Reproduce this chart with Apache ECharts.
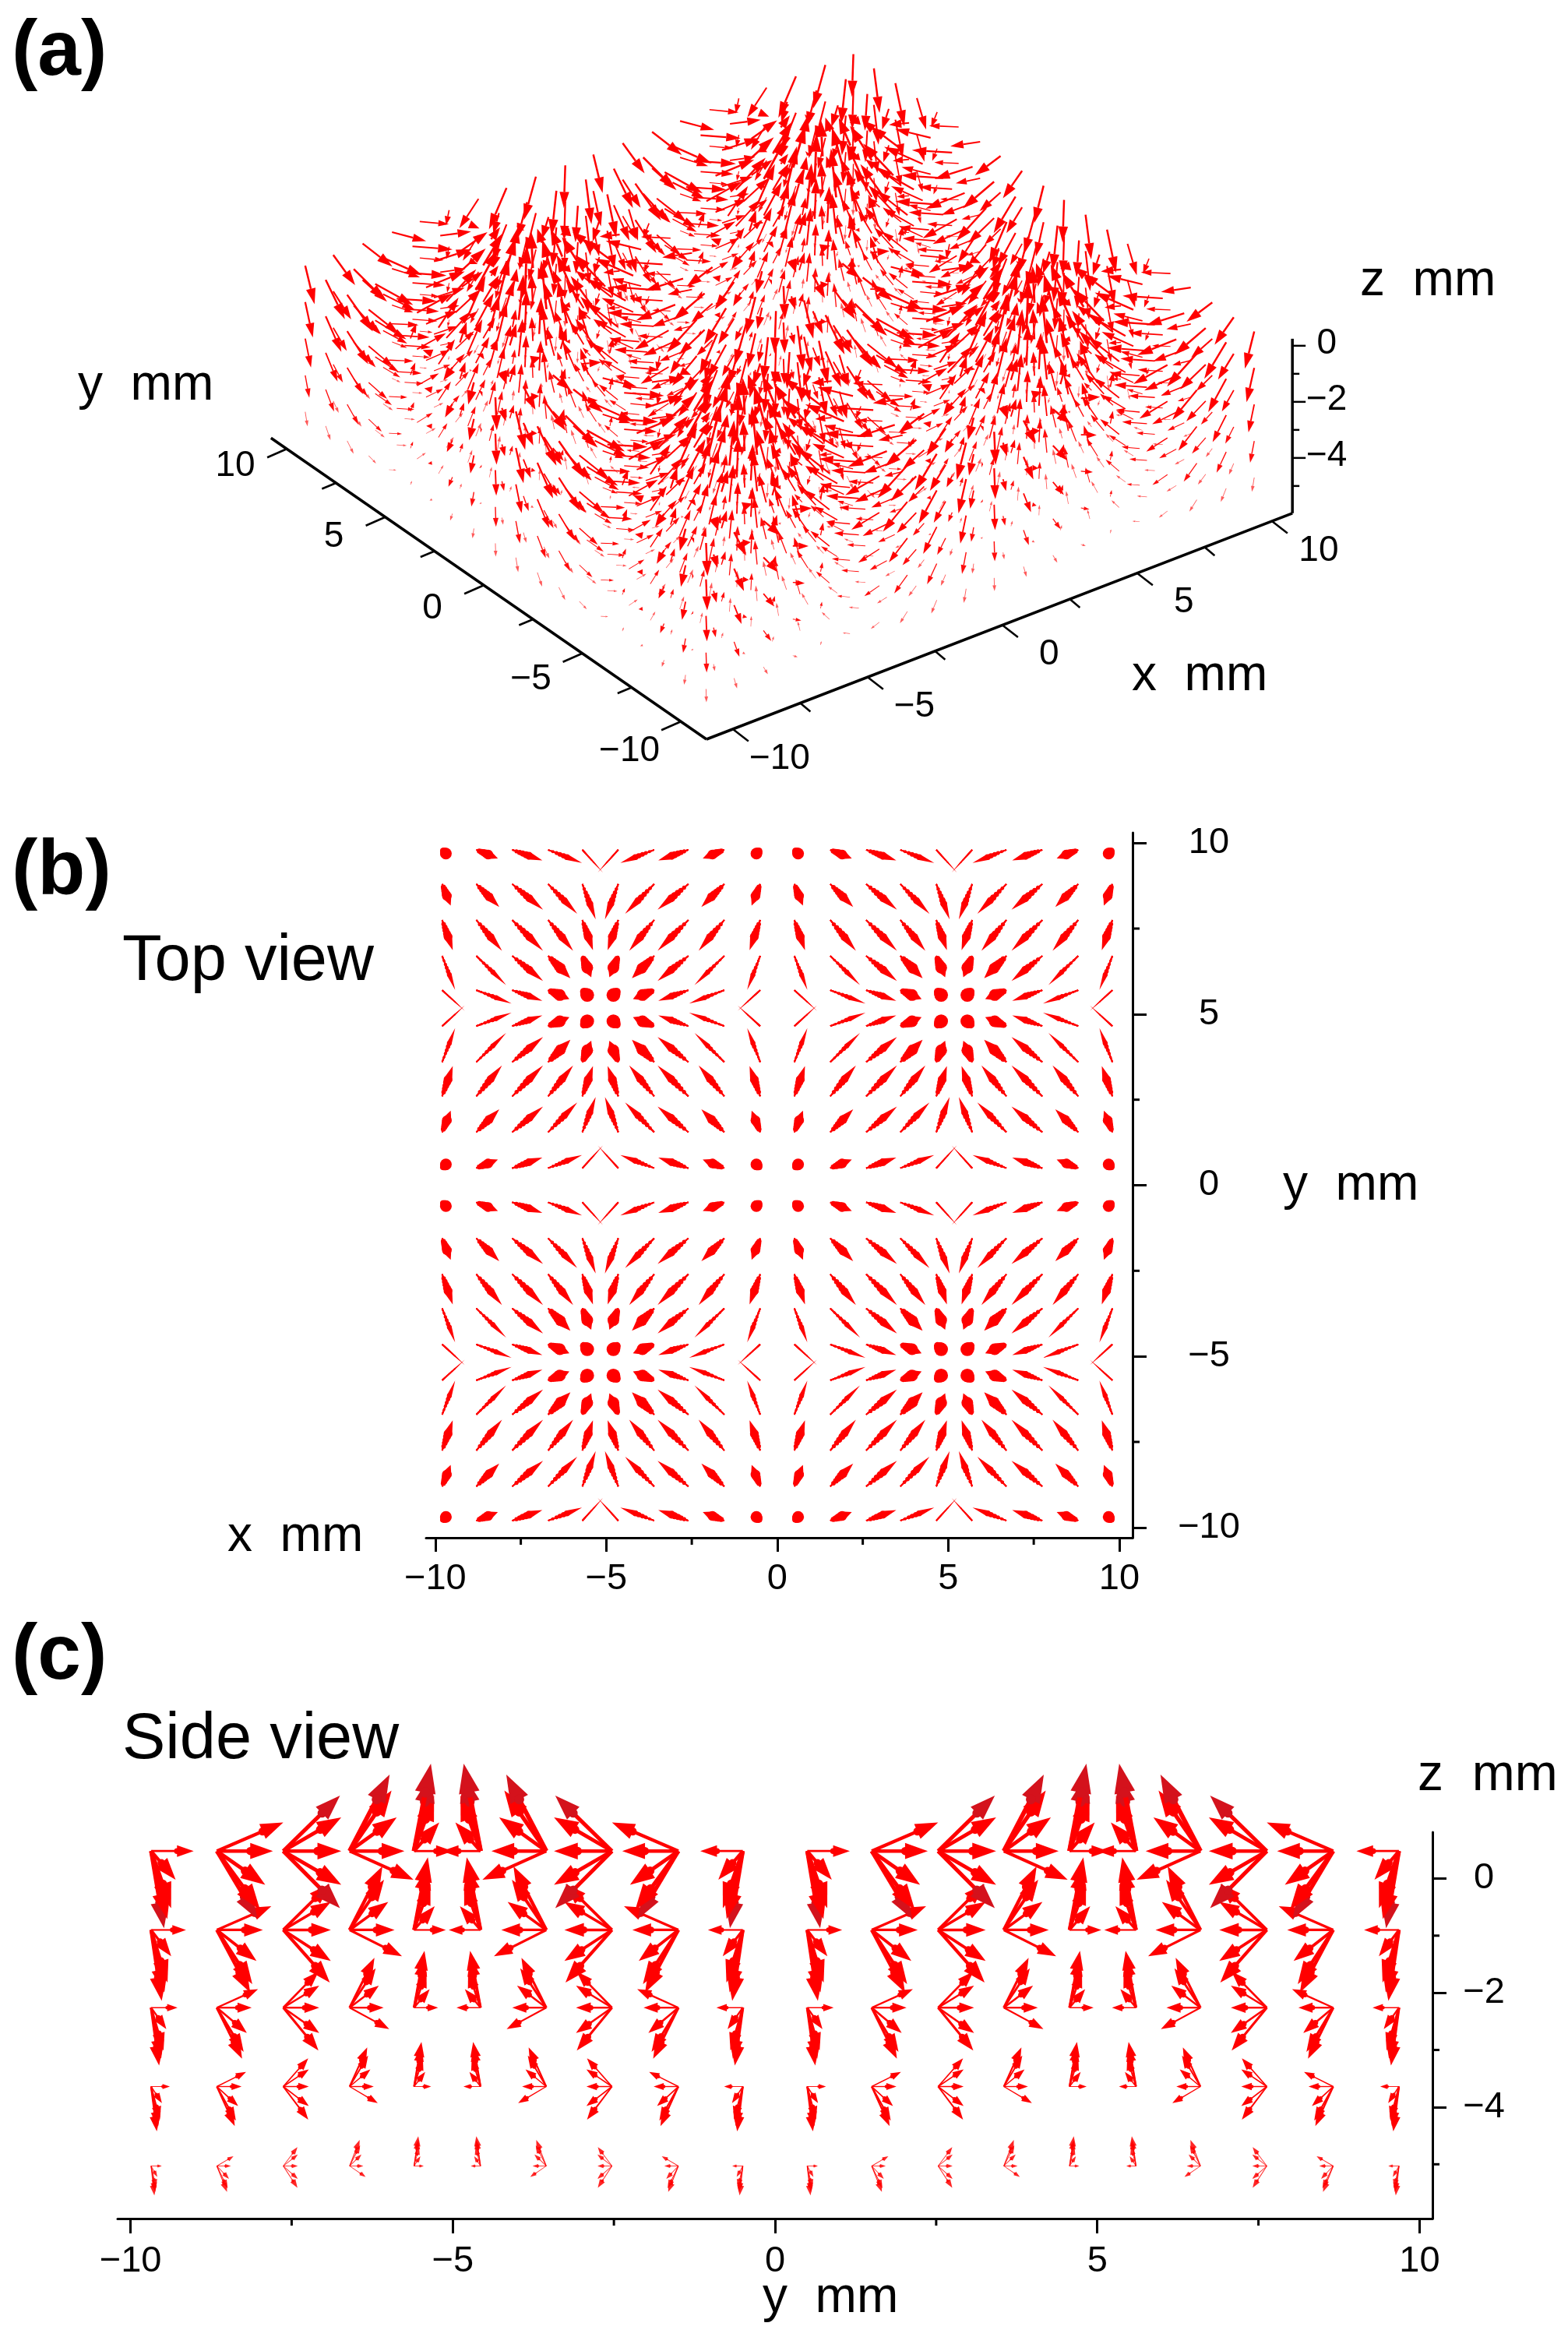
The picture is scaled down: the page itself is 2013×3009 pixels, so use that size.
<!DOCTYPE html>
<html><head><meta charset="utf-8">
<style>html,body{margin:0;padding:0;background:#fff}#c{width:2013px;height:3009px}</style>
<script src="https://cdn.jsdelivr.net/npm/echarts@6/dist/echarts.min.js"></script>
</head><body><div id="c"></div>
<script>
// ---- values (mm) ----
// tail positions of the arrows within one half-axis
const gridTop  = [0.5,1.55,2.6,3.6,4.65,5.7,6.7,7.75,8.8,9.8];
const gridSide = [0.5,1.5,2.53,3.55,4.57,5.6,6.6,7.63,8.66,9.68];
const grid3d   = [0.52,1.61,2.7,3.74,4.83,5.92,6.95,8.04,9.13,10.17];
const layerZ   = [0.48,-0.9,-2.26,-3.64,-5.03];
const layerZ3d = [0.18,-1.12,-2.42,-3.73,-5.03];
// horizontal, upward and downward strength of each depth layer, relative to the top layer
const layerH     = [1,0.82,0.62,0.44,0.25];
const layerVUp   = [1,0.83,0.65,0.51,0.34];
const layerVDown = [1,0.92,0.75,0.58,0.38];
// top-layer components for one cell folded from its edge (0) to its centre (4)
const compIn = [
 [0.20,0.25,0.31,0.38,0.66],
 [0.63,0.67,0.75,0.87,1.03],
 [0.88,0.90,0.90,0.90,0.88],
 [0.99,0.85,0.73,0.65,0.62],
 [0.60,0.39,0.31,0.26,0.26]];
const compZ = [
 [-1.35,-1.19,-1.00,-0.50,0.00],
 [-1.19,-1.03,-0.59,0.00,0.50],
 [-1.00,-0.59,0.00,0.59,0.97],
 [-0.50,0.00,0.59,1.06,1.34],
 [0.00,0.50,0.97,1.34,1.53]];
const topXMajor=[-10,-5,0,5,10], topXMinor=[-7.5,-2.5,2.5,7.5];
const topYMajor=[-10,-5,0,5,10], topYMinor=[-7.5,-2.5,2.5,7.5];
const sideXMajor=[-10,-5,0,5,10], sideXMinor=[-7.5,-2.5,2.5,7.5];
const sideZMajor=[-4,-2,0], sideZMinor=[-5,-3,-1];
const persp3dMajor=[-10,-5,0,5,10], persp3dMinor=[-7.5,-2.5,2.5,7.5];
const z3dMajor=[-4,-2,0], z3dMinor=[-5,-3,-1];
const fmt=v=>v<0?'\u2212'+Math.abs(v):''+v;

// style: apparent head width (px) of the top-view arrows, per folded cell position
const topHeadStyle=[
 [12,10,8,6,1.5],
 [10,9,8,7,7],
 [9,8,8,8,9],
 [5,5,8,11,12],
 [1.5,5,7,12,14]];

// oblique projection of panel (a) onto its plane axes
const P3=(x,y,z)=>[1001+34.6*x-25.3*y, 389.75-13.35*x-17.5*y-36*z];
const E={xL:-10.98,xR:10.76,yF:-11.3,yB:10.8,zB:-5.97,zT:0.25};

// full axis positions and their fold into one cell
const full=g=>{const a=[];for(let k=9;k>=0;k--)a.push(-g[k]);for(let k=0;k<10;k++)a.push(g[k]);return a;};
const fold=k=>{const i=k%10;return i<5?[i,1]:[9-i,-1];};
const zAt=(j,i,L)=>{const w=compZ[j][i];return w*(w<0?layerVDown[L]:layerVUp[L]);};

const arrowsTop=[],arrows3d=[],arrowsSide=[];
const gx=full(gridTop),g3=full(grid3d),gs=full(gridSide);
for(let L=4;L>=0;L--){
 for(let a=0;a<20;a++)for(let b=0;b<20;b++){
  const [fi,si]=fold(a),[fj,sj]=fold(b);
  const u=compIn[fi][fj]*si*layerH[L], v=compIn[fj][fi]*sj*layerH[L], w=zAt(fj,fi,L);
  const len=Math.hypot(u,v,w);
  arrowsTop.push([gx[a],gx[b],gx[a]+u,gx[b]+v,topHeadStyle[fj][fi]*(0.35+0.65*layerH[L]),L]);
  const p=P3(g3[a],g3[b],layerZ3d[L]),q=P3(g3[a]+u,g3[b]+v,layerZ3d[L]+w);
  arrows3d.push([p[0],p[1],q[0],q[1],len,L]);
 }
 for(let b=0;b<20;b++){
  const [fj,sj]=fold(b);
  for(let i=0;i<5;i++){
   const v=compIn[fj][i]*sj*layerH[L], w=zAt(fj,i,L), u=compIn[i][fj]*layerH[L];
   arrowsSide.push([gs[b],layerZ[L],gs[b]+v,layerZ[L]+w,Math.hypot(u,v,w),L]);
  }
 }
}

function arrowRender(cfg){
 return (params,api)=>{
  const p=api.coord([api.value(0),api.value(1)]),q=api.coord([api.value(2),api.value(3)]);
  const len=api.value(4),L=api.value(5)||0;
  let dx=q[0]-p[0],dy=q[1]-p[1],d=Math.hypot(dx,dy);
  if(d<0.01){dx=1;dy=0;d=1;}
  const ux=dx/d,uy=dy/d,nx=-uy,ny=ux;
  const hl=Math.min(d,cfg.hl*len+cfg.hp*d),hw=cfg.hw*len,s=Math.max(cfg.minS,cfg.sw*Math.pow(len,cfg.pw||1));
  const nk=[q[0]-ux*hl,q[1]-uy*hl];
  const op=cfg.op?cfg.op[L]:1;
  const shaft=[[p[0]+nx*s/2,p[1]+ny*s/2],[nk[0]+nx*s/2,nk[1]+ny*s/2],[nk[0]-nx*s/2,nk[1]-ny*s/2],[p[0]-nx*s/2,p[1]-ny*s/2]];
  const head=[[nk[0]+nx*hw/2,nk[1]+ny*hw/2],[q[0],q[1]],[nk[0]-nx*hw/2,nk[1]-ny*hw/2]];
  const dark=cfg.dark&&L===0&&d>cfg.dark;
  const fill=dark?'#d4121c':'#ff0000';
  const kids=[{type:'polygon',shape:{points:shaft},style:{fill:'#ff0000',opacity:op}},
              {type:'polygon',shape:{points:head},style:{fill,opacity:op}}];
  if(cfg.blob)kids.push({type:'circle',shape:{cx:nk[0],cy:nk[1],r:hw/2*cfg.blob},style:{fill,opacity:op}});
  return {type:'group',children:kids};
 };
}
const arrowSeries=(data,idx,cfg)=>({type:'custom',xAxisIndex:idx,yAxisIndex:idx,data,clip:false,silent:true,
 animation:false,renderItem:arrowRender(cfg),encode:{x:[0,2],y:[1,3]},progressive:0});

// short extra ticks on an axis: vals are axis values, other is the position on the crossing axis
function minorTicks(idx,vals,horizontal,other,len,width){
 return {type:'custom',xAxisIndex:idx,yAxisIndex:idx,silent:true,animation:false,clip:false,data:vals.map(v=>[v]),
  encode:horizontal?{x:0}:{y:0},
  renderItem:(p,api)=>{
   const v=api.value(0);
   if(horizontal){const c=api.coord([v,other]);return{type:'line',shape:{x1:c[0],y1:c[1],x2:c[0],y2:c[1]+len},style:{stroke:'#000',lineWidth:width}};}
   const c=api.coord([other,v]);return{type:'line',shape:{x1:c[0],y1:c[1],x2:c[0]+len,y2:c[1]},style:{stroke:'#000',lineWidth:width}};
  }};
}

// panel (a) frame on the plane axes
const seg3d=[];
const addSeg=(a,b,w)=>seg3d.push([a[0],a[1],b[0],b[1],w]);
addSeg(P3(E.xL,E.yF,E.zB),P3(E.xR,E.yF,E.zB),3.5);
addSeg(P3(E.xL,E.yF,E.zB),P3(E.xL,E.yB,E.zB),3.5);
addSeg(P3(E.xR,E.yF,E.zB),P3(E.xR,E.yF,E.zT),3.5);
persp3dMajor.forEach(v=>{const a=P3(v,E.yF,E.zB);addSeg(a,[a[0]+20,a[1]+15.5],2.5);const b=P3(E.xL,v,E.zB);addSeg(b,[b[0]-25,b[1]+11],2.5);});
persp3dMinor.forEach(v=>{const a=P3(v,E.yF,E.zB);addSeg(a,[a[0]+13,a[1]+11],2.5);const b=P3(E.xL,v,E.zB);addSeg(b,[b[0]-18,b[1]+7.5],2.5);});
z3dMajor.forEach(v=>{const a=P3(E.xR,E.yF,v);addSeg(a,[a[0]+17,a[1]],2.5);});
z3dMinor.forEach(v=>{const a=P3(E.xR,E.yF,v);addSeg(a,[a[0]+9,a[1]],2.5);});

const lab3d=[];
persp3dMajor.forEach(v=>{
 const a=P3(v,E.yF,E.zB),b=P3(E.xL,v,E.zB);
 lab3d.push([a[0]+60,a[1]+38,fmt(v)]);
 lab3d.push([b[0]-66,b[1]+22+(10-v)*0.8,fmt(v)]);
});
z3dMajor.forEach(v=>{const a=P3(E.xR,E.yF,v);lab3d.push([a[0]+44,a[1]-3,fmt(v)]);});

const txt=(text,x,base,size,bold)=>({type:'text',silent:true,style:{text,x,y:base-0.36*size+4,verticalAlign:'middle',align:'left',fill:'#000',
 font:(bold?'bold ':'')+size+'px "Liberation Sans",Arial,sans-serif'}});

const axisFont={fontFamily:'"Liberation Sans",Arial,sans-serif',fontSize:47,color:'#000'};
const lineS={color:'#000',width:3};
const hiddenX={type:'value',gridIndex:0,min:0,max:2013,show:false};
const hiddenY={type:'value',gridIndex:0,min:0,max:1000,inverse:true,show:false};

const option={
 animation:false,backgroundColor:'#fff',
 grid:[{left:0,top:0,width:2013,height:1000},
       {left:547,top:1069,width:907,height:905},
       {left:151,top:2352,width:1688,height:496}],
 xAxis:[hiddenX,
  {type:'value',gridIndex:1,min:-10.27,max:10.39,position:'bottom',axisLine:{onZero:false,lineStyle:lineS},splitLine:{show:false},
   axisTick:{customValues:topXMajor,length:18,lineStyle:lineS},axisLabel:{customValues:topXMajor,formatter:fmt,margin:30,...axisFont}},
  {type:'value',gridIndex:2,min:-10.2,max:10.2,position:'bottom',axisLine:{onZero:false,lineStyle:lineS},splitLine:{show:false},
   axisTick:{customValues:sideXMajor,length:19,lineStyle:lineS},axisLabel:{customValues:sideXMajor,formatter:fmt,margin:32,...axisFont}}],
 yAxis:[hiddenY,
  {type:'value',gridIndex:1,min:-10.3,max:10.3,position:'right',axisLine:{onZero:false,lineStyle:lineS},splitLine:{show:false},
   axisTick:{customValues:topYMajor,length:18,lineStyle:lineS},axisLabel:{customValues:topYMajor,formatter:fmt,margin:98,align:'center',...axisFont}},
  {type:'value',gridIndex:2,min:-5.95,max:0.81,position:'right',axisLine:{onZero:false,lineStyle:lineS},splitLine:{show:false},
   axisTick:{customValues:sideZMajor,length:18,lineStyle:lineS},axisLabel:{customValues:sideZMajor,formatter:fmt,margin:66,align:'center',...axisFont}}],
 series:[
  {type:'custom',xAxisIndex:0,yAxisIndex:0,silent:true,animation:false,clip:false,data:seg3d,encode:{x:[0,2],y:[1,3]},
   renderItem:(p,api)=>{const a=api.coord([api.value(0),api.value(1)]),b=api.coord([api.value(2),api.value(3)]);
    return{type:'line',shape:{x1:a[0],y1:a[1],x2:b[0],y2:b[1]},style:{stroke:'#000',lineWidth:api.value(4)}};}},
  {type:'custom',xAxisIndex:0,yAxisIndex:0,silent:true,animation:false,clip:false,data:lab3d,encode:{x:0,y:1},
   dimensions:[{name:'a',type:'number'},{name:'b',type:'number'},{name:'t',type:'ordinal'}],
   renderItem:(p,api)=>{const d=lab3d[p.dataIndex],c=api.coord([d[0],d[1]]);
    return{type:'text',style:{text:d[2],x:c[0],y:c[1],align:'center',verticalAlign:'middle',fill:'#000',font:'46px "Liberation Sans",Arial,sans-serif'}};}},
  arrowSeries(arrows3d,0,{hl:11,hp:0.1,hw:9,sw:1.8,pw:1,minS:0.7,op:[1,1,1,0.95,0.65]}),
  arrowSeries(arrowsTop,1,{hl:0,hp:0.45,hw:1.25,sw:0.14,minS:1.8,blob:1}),
  arrowSeries(arrowsSide,2,{hl:24,hp:0,hw:17,sw:3.3,pw:1.4,minS:0.9,blob:0.5,op:[1,1,1,1,0.85],dark:95}),
  minorTicks(1,topXMinor,true,-10.3,9,3),
  minorTicks(1,topYMinor,false,10.39,9,3),
  minorTicks(2,sideXMinor,true,-5.95,9,3),
  minorTicks(2,sideZMinor,false,10.2,9,3)
 ],
 graphic:{elements:[
  txt('(a)',15,100,100,true),txt('(b)',15,1152,100,true),txt('(c)',15,2159,100,true),
  txt('Top view',157,1261,83),txt('Side view',157,2260,83),
  txt('z  mm',1746,380,64),txt('y  mm',100,514,64),txt('x  mm',1453,887,64),
  txt('y  mm',1647,1541,64),txt('x  mm',292,1992,64),
  txt('z  mm',1820,2300,66),txt('y  mm',979,2969,64)
 ]}
};
echarts.init(document.getElementById('c'),null,{renderer:'canvas'}).setOption(option);
</script></body></html>
